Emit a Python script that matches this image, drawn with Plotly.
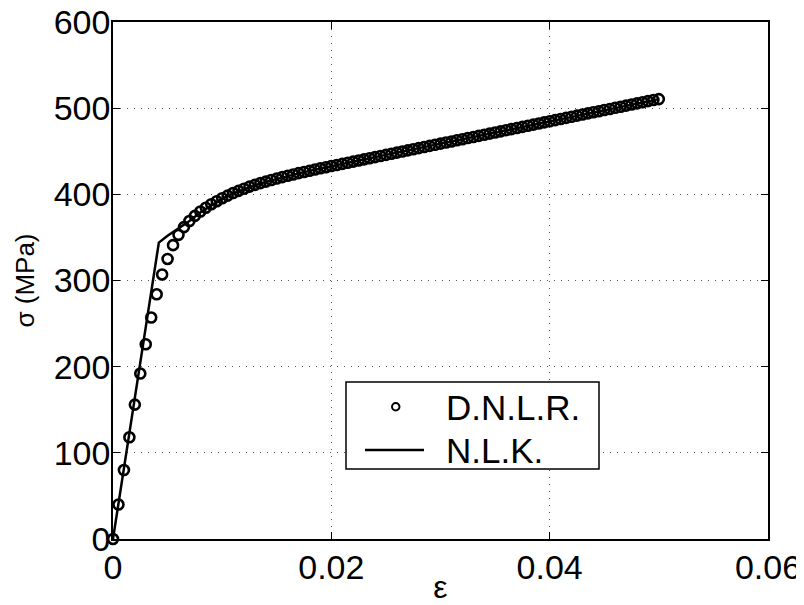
import plotly.graph_objects as go

# D.N.L.R. data (strain, stress in MPa)
dnlr_strain = [
    0.0000, 0.0005, 0.0010, 0.0015, 0.0020, 0.0025, 0.0030, 0.0035, 0.0040, 0.0045,
    0.0050, 0.0055, 0.0060, 0.0065, 0.0070, 0.0075, 0.0080, 0.0085, 0.0090, 0.0095,
    0.0100, 0.0105, 0.0110, 0.0115, 0.0120, 0.0125, 0.0130, 0.0135, 0.0140, 0.0145,
    0.0150, 0.0155, 0.0160, 0.0165, 0.0170, 0.0175, 0.0180, 0.0185, 0.0190, 0.0195,
    0.0200, 0.0205, 0.0210, 0.0215, 0.0220, 0.0225, 0.0230, 0.0235, 0.0240, 0.0245,
    0.0250, 0.0255, 0.0260, 0.0265, 0.0270, 0.0275, 0.0280, 0.0285, 0.0290, 0.0295,
    0.0300, 0.0305, 0.0310, 0.0315, 0.0320, 0.0325, 0.0330, 0.0335, 0.0340, 0.0345,
    0.0350, 0.0355, 0.0360, 0.0365, 0.0370, 0.0375, 0.0380, 0.0385, 0.0390, 0.0395,
    0.0400, 0.0405, 0.0410, 0.0415, 0.0420, 0.0425, 0.0430, 0.0435, 0.0440, 0.0445,
    0.0450, 0.0455, 0.0460, 0.0465, 0.0470, 0.0475, 0.0480, 0.0485, 0.0490, 0.0495,
    0.0500,
]
dnlr_stress = [
    0, 40, 80, 118, 156, 192, 226, 257, 284, 307,
    325, 341, 353, 362, 369, 375, 380, 384.5, 388.5, 392,
    395.5, 398.5, 401.5, 404, 406.5, 409, 411, 413, 414.8, 416.6,
    418.3, 420, 421.6, 423.1, 424.6, 426, 427.4, 428.8, 430.2, 431.5,
    432.8, 434.1, 435.4, 436.7, 438.0, 439.3, 440.6, 441.9, 443.2, 444.5,
    445.8, 447.1, 448.4, 449.7, 451.0, 452.3, 453.6, 454.9, 456.2, 457.5,
    458.8, 460.1, 461.4, 462.7, 464.0, 465.3, 466.6, 467.9, 469.2, 470.5,
    471.8, 473.1, 474.4, 475.7, 477.0, 478.3, 479.6, 480.9, 482.2, 483.5,
    484.8, 486.1, 487.4, 488.7, 490.0, 491.3, 492.6, 493.9, 495.2, 496.5,
    497.8, 499.1, 500.4, 501.7, 503.0, 504.3, 505.6, 506.9, 508.2, 509.5,
    510.5,
]

# N.L.K. curve
nlk_strain = [0.0, 0.0042, 0.005, 0.006, 0.007, 0.008, 0.009, 0.010, 0.011, 0.012,
              0.013, 0.014, 0.015, 0.016, 0.017, 0.018, 0.019, 0.020, 0.025, 0.030,
              0.035, 0.040, 0.045, 0.050]
nlk_stress = [0, 344, 352, 360.5, 369, 379, 387.5, 395, 401, 406,
              410.5, 414.5, 418, 421.3, 424.3, 427.2, 430, 432.7, 445.8, 458.7,
              471.6, 484.6, 497.6, 510.5]

series_names = ["D.N.L.R.", "N.L.K."]

x_ticks = [0, 0.02, 0.04, 0.06]
x_ticklabels = ["0", "0.02", "0.04", "0.06"]
y_ticks = [0, 100, 200, 300, 400, 500, 600]
y_ticklabels = ["0", "100", "200", "300", "400", "500", "600"]

FONT = "Liberation Sans, Arial, Helvetica, sans-serif"

fig = go.Figure()
fig.add_trace(go.Scatter(
    x=dnlr_strain, y=dnlr_stress, mode="markers", name=series_names[0],
    marker=dict(symbol="circle-open", size=10, color="black", line=dict(width=2.6, color="black")),
    cliponaxis=False, showlegend=False,
))
fig.add_trace(go.Scatter(
    x=nlk_strain, y=nlk_stress, mode="lines", name=series_names[1],
    line=dict(color="black", width=2.5),
    cliponaxis=False, showlegend=False,
))

axis_common = dict(
    showline=True, linecolor="black", linewidth=1.5, mirror="ticks",
    ticks="inside", ticklen=7, tickcolor="black", tickwidth=1,
    showgrid=True, gridcolor="#555555", gridwidth=1, griddash="1px,6px",
    zeroline=False, automargin=False, ticklabeloverflow="allow",
    tickfont=dict(family=FONT, size=34, color="black"),
)

fig.update_xaxes(
    range=[0, 0.06], tickvals=x_ticks, ticktext=x_ticklabels,
    title=dict(text="ε", font=dict(family=FONT, size=32, color="black"), standoff=3),
    ticklabelstandoff=-3,
    **axis_common,
)
fig.update_yaxes(
    range=[0, 600], tickvals=y_ticks, ticktext=y_ticklabels,
    title=dict(text="σ (MPa)", font=dict(family=FONT, size=26, color="black"), standoff=12),
    ticklabelstandoff=-6,
    **axis_common,
)

# Legend box (MATLAB style), positioned in plot-area fractions
PL, PR, PT, PB = 113, 768, 22, 539
def fx(px):
    return (px - PL) / (PR - PL)
def fy(py):
    return (PB - py) / (PB - PT)

shapes = [
    dict(type="rect", xref="paper", yref="paper", x0=fx(346), x1=fx(599), y0=fy(469), y1=fy(382),
         line=dict(color="black", width=1.5), fillcolor="white", layer="above"),
    dict(type="line", xref="paper", yref="paper", x0=fx(365), x1=fx(424), y0=fy(450), y1=fy(450),
         line=dict(color="black", width=2.5), layer="above"),
    dict(type="circle", xref="paper", yref="paper", x0=fx(392), x1=fx(399.5), y0=fy(410.5), y1=fy(403),
         line=dict(color="black", width=2), fillcolor="white", layer="above"),
]
annotations = [
    dict(xref="paper", yref="paper", x=fx(444), y=fy(407), text=series_names[0], showarrow=False,
         xanchor="left", yanchor="middle", font=dict(family=FONT, size=35, color="black")),
    dict(xref="paper", yref="paper", x=fx(444), y=fy(450), text=series_names[1], showarrow=False,
         xanchor="left", yanchor="middle", font=dict(family=FONT, size=35, color="black")),
]

fig.update_layout(
    width=796, height=597,
    margin=dict(l=105, r=36, t=14, b=66),
    paper_bgcolor="white", plot_bgcolor="white",
    showlegend=False,
    shapes=shapes, annotations=annotations,
    font=dict(family=FONT, color="black"),
)

fig.write_html("out.html")
